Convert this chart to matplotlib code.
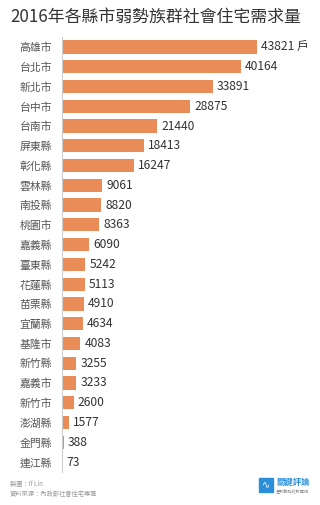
import matplotlib
matplotlib.use("Agg")
import matplotlib.pyplot as plt
from matplotlib.patches import Rectangle

plt.rcParams['font.family'] = ['Noto Sans CJK TC', 'DejaVu Sans']

# data
counties = ["高雄市", "台北市", "新北市", "台中市", "台南市", "屏東縣", "彰化縣",
            "雲林縣", "南投縣", "桃園市", "嘉義縣", "臺東縣", "花蓮縣", "苗栗縣",
            "宜蘭縣", "基隆市", "新竹縣", "嘉義市", "新竹市", "澎湖縣", "金門縣", "連江縣"]
households = [43821, 40164, 33891, 28875, 21440, 18413, 16247,
              9061, 8820, 8363, 6090, 5242, 5113, 4910,
              4634, 4083, 3255, 3233, 2600, 1577, 388, 73]

title = "2016年各縣市弱勢族群社會住宅需求量"
unit = "戶"
credit = "製圖：If Lin"
source = "資料來源：內政部社會住宅專區"

W, H = 320, 505
fig = plt.figure(figsize=(W / 100, H / 100), dpi=100)
fig.patch.set_facecolor("white")

bar_color = "#EA8C58"
text_color = "#333333"

xmax = 56000
ax_w = 195 * xmax / 43821
ax = fig.add_axes([62 / W, 1 - 471.9 / H, ax_w / W, (471.9 - 37.1) / H])

ypos = list(range(len(counties)))
ax.barh(ypos, households, height=0.67, color=bar_color)
ax.set_ylim(len(counties) - 0.5, -0.5)
ax.set_xlim(0, xmax)

for y, v in zip(ypos, households):
    label = f"{v} {unit}" if y == 0 else str(v)
    ax.annotate(label, (v, y), xytext=(3, 0), textcoords="offset points",
                va="center", ha="left", fontsize=8.7, color=text_color)

ax.set_yticks(ypos)
ax.set_yticklabels(counties, fontsize=7.8, color="#555555")
ax.tick_params(axis="y", length=0, pad=7)
ax.set_xticks([])
for side in ["top", "right", "bottom"]:
    ax.spines[side].set_visible(False)
ax.spines["left"].set_color("#cccccc")
ax.spines["left"].set_linewidth(0.8)
ax.set_facecolor("none")

fig.text(156 / W, 1 - 17 / H, title, ha="center", va="center",
         fontsize=12.2, color="#333333")

# footer
fig.text(10 / W, 1 - 484 / H, credit, fontsize=4.5, color="#999999", va="center")
fig.text(10 / W, 1 - 494 / H, source, fontsize=4.5, color="#999999", va="center")

# logo
fig.patches.append(Rectangle((259 / W, 1 - 492 / H), 14 / W, 14 / H,
                             transform=fig.transFigure, color="#2a8fd8"))
fig.text(266 / W, 1 - 485 / H, "∿", fontsize=7, color="white",
         ha="center", va="center", family=["DejaVu Sans"])
fig.text(276 / W, 1 - 482 / H, "關鍵評論", fontsize=6, color="#2a8fd8",
         va="center", weight="bold")
fig.text(276 / W, 1 - 491 / H, "全新觀點的新聞網", fontsize=3, color="#888888",
         va="center")

fig.savefig("out.png", dpi=100)
